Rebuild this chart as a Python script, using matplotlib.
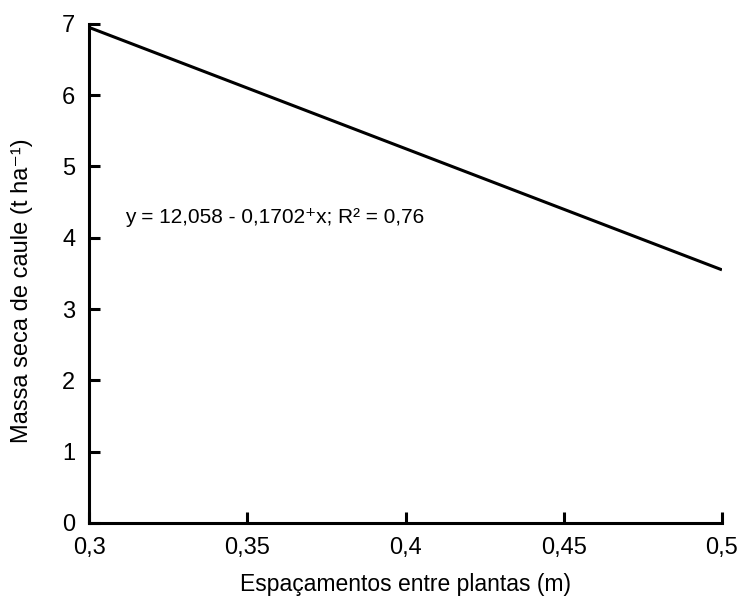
import matplotlib

matplotlib.use("Agg")
import matplotlib.pyplot as plt

plt.rcParams["font.family"] = ["Liberation Sans", "DejaVu Sans"]

# Regression line end points
spacing = [0.30, 0.50]
stem_mass = [6.95, 3.55]

x_ticks = [0.30, 0.35, 0.40, 0.45, 0.50]
x_tick_labels = ["0,3", "0,35", "0,4", "0,45", "0,5"]
y_ticks = [0, 1, 2, 3, 4, 5, 6, 7]
equation = "y = 12,058 - 0,1702\u207ax; R\u00b2 = 0,76"

fig = plt.figure(figsize=(7.42, 5.96), dpi=100)
ax = fig.add_axes([0.12, 0.1225, 0.853, 0.8375])

ax.plot(spacing, stem_mass, color="black", linewidth=2.2, solid_capstyle="butt")

ax.set_xlim(0.30, 0.50)
ax.set_ylim(0, 7)
ax.set_xticks(x_ticks)
ax.set_xticklabels(x_tick_labels)
ax.set_yticks(y_ticks)

for side in ("top", "right"):
    ax.spines[side].set_visible(False)
for side in ("left", "bottom"):
    ax.spines[side].set_linewidth(2.2)
ax.tick_params(direction="in", length=8, width=2.2, labelsize=17, pad=10)

ax.text(0.3113, 4.29, equation, fontsize=15, va="center", ha="left")

ax.set_xlabel("Espaçamentos entre plantas (m)", fontsize=16.5)
ax.set_ylabel("Massa seca de caule (t ha\u207b\u00b9)", fontsize=17)
ax.xaxis.set_label_coords(0.5, -0.1)
ax.yaxis.set_label_coords(-0.088, 0.465)

fig.savefig("out.png", dpi=100)
